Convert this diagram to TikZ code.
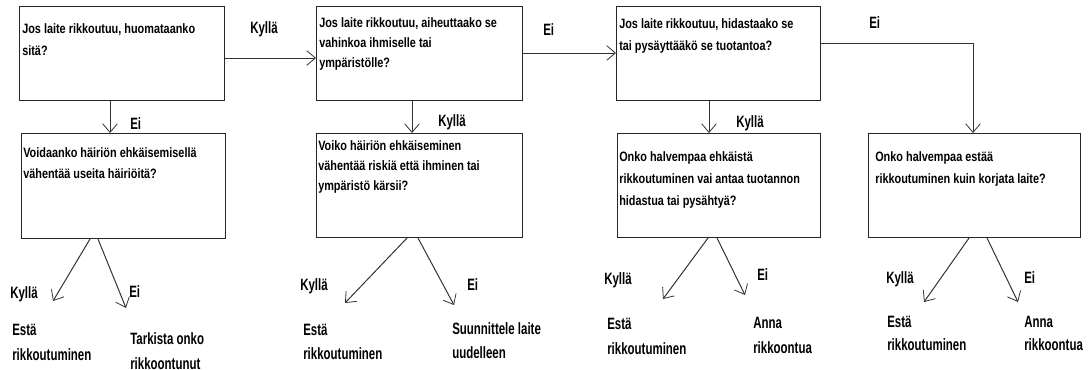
\documentclass[tikz,border=0pt]{standalone}
\usepackage{fontspec}
\setmainfont{Liberation Sans}
\newfontfamily\boxfont{Liberation Sans Bold}[FakeStretch=0.80]
\newfontfamily\labfont{Liberation Sans Bold}[FakeStretch=0.70]
\usetikzlibrary{arrows.meta}
\begin{document}
\begin{tikzpicture}[x=0.75pt,y=-0.75pt,
  box/.style={draw=black!85, line width=0.75pt, anchor=north west, inner sep=0pt},
  % question text, anchored at the baseline of its last line; #1 = line spacing
  qtxt/.style={anchor=base west, inner sep=0pt, align=left,
    font=\boxfont\fontsize{10.2pt}{#1}\selectfont},
  % answer labels
  atxt/.style={anchor=base west, inner sep=0pt, align=left,
    font=\labfont\fontsize{12.3pt}{#1}\selectfont},
  atxt/.default=18pt,
  link/.style={line width=0.75pt, draw=black!80,
    -{Straight Barb[length=6.5pt,width=11pt,line width=0.6pt]}}
]
\useasboundingbox (0,0) rectangle (1088,369);

% question boxes
\node[box, minimum width=205*0.75pt, minimum height=94*0.75pt] (q1) at (19,6) {};
\node[box, minimum width=206*0.75pt, minimum height=94*0.75pt] (q2) at (316,6) {};
\node[box, minimum width=204*0.75pt, minimum height=94*0.75pt] (q3) at (616,6) {};
\node[box, minimum width=204*0.75pt, minimum height=105*0.75pt] (q4) at (21,133) {};
\node[box, minimum width=206*0.75pt, minimum height=104*0.75pt] (q5) at (316,133) {};
\node[box, minimum width=203*0.75pt, minimum height=104*0.75pt] (q6) at (617,133) {};
\node[box, minimum width=212*0.75pt, minimum height=104*0.75pt] (q7) at (868,133) {};

% question texts
\node[qtxt=16.5pt] (t1) at (22,55) {Jos laite rikkoutuu, huomataanko\\sitä?};
\node[qtxt=15pt] (t2) at (319,67) {Jos laite rikkoutuu, aiheuttaako se\\vahinkoa ihmiselle tai\\ympäristölle?};
\node[qtxt=16.5pt] (t3) at (619,50) {Jos laite rikkoutuu, hidastaako se\\tai pysäyttääkö se tuotantoa?};
\node[qtxt=15.75pt] (t4) at (23,178) {Voidaanko häiriön ehkäisemisellä\\vähentää useita häiriöitä?};
\node[qtxt=15pt] (t5) at (318,190) {Voiko häiriön ehkäiseminen\\vähentää riskiä että ihminen tai\\ympäristö kärsii?};
\node[qtxt=16.5pt] (t6) at (619,205) {Onko halvempaa ehkäistä\\rikkoutuminen vai antaa tuotannon\\hidastua tai pysähtyä?};
\node[qtxt=16.5pt] (t7) at (875,183) {Onko halvempaa estää\\rikkoutuminen kuin korjata laite?};

% main flow
\coordinate (c3) at (973,43);
\draw[link] (q1.east |- 0,58) -- (q2.west |- 0,58);
\draw[link] (q2.east |- 0,53) -- (q3.west |- 0,53);
\draw[link] (q3.east |- 0,43) -- (c3) -- (q7.north -| c3);
\draw[link] (q1.south -| 110,0) -- (q4.north -| 110,0);
\draw[link] (q2.south -| 412,0) -- (q5.north -| 412,0);
\draw[link] (q3.south -| 709,0) -- (q6.north -| 709,0);

\node[atxt] (l1) at (250,33) {Kyllä};
\node[atxt] (l2) at (543,35) {Ei};
\node[atxt] (l3) at (869,28) {Ei};
\node[atxt] (l4) at (130,129) {Ei};
\node[atxt] (l5) at (438,126) {Kyllä};
\node[atxt] (l6) at (736,127) {Kyllä};

% answers of the lower boxes
\coordinate (a4y) at (53,301);  \coordinate (a4n) at (126,308);
\coordinate (a5y) at (345,303); \coordinate (a5n) at (454,305);
\coordinate (a6y) at (663,299); \coordinate (a6n) at (745,295);
\coordinate (a7y) at (924,302); \coordinate (a7n) at (1018,302);

\draw[link] (q4.south -| 90,0) -- (a4y);
\draw[link] (q4.south -| 98,0) -- (a4n);
\draw[link] (q5.south -| 407,0) -- (a5y);
\draw[link] (q5.south -| 418,0) -- (a5n);
\draw[link] (q6.south -| 708,0) -- (a6y);
\draw[link] (q6.south -| 717,0) -- (a6n);
\draw[link] (q7.south -| 969,0) -- (a7y);
\draw[link] (q7.south -| 987,0) -- (a7n);

\node[atxt] (k4) at (10,298) {Kyllä};
\node[atxt] (e4) at (129,297) {Ei};
\node[atxt] (k5) at (300,290) {Kyllä};
\node[atxt] (e5) at (467,290) {Ei};
\node[atxt] (k6) at (604,284) {Kyllä};
\node[atxt] (e6) at (757,280) {Ei};
\node[atxt] (k7) at (886,283) {Kyllä};
\node[atxt] (e7) at (1024,283) {Ei};

\node[atxt=18.75pt] (r4y) at (12,360) {Estä\\rikkoutuminen};
\node[atxt=18.75pt] (r4n) at (130,369) {Tarkista onko\\rikkoontunut};
\node[atxt=18pt] (r5y) at (303,359) {Estä\\rikkoutuminen};
\node[atxt=18pt] (r5n) at (452,358) {Suunnittele laite\\uudelleen};
\node[atxt=18.75pt] (r6y) at (607,354) {Estä\\rikkoutuminen};
\node[atxt=18.75pt] (r6n) at (753,353) {Anna\\rikkoontua};
\node[atxt=17.25pt] (r7y) at (887,350) {Estä\\rikkoutuminen};
\node[atxt=17.25pt] (r7n) at (1024,350) {Anna\\rikkoontua};
\end{tikzpicture}
\end{document}
